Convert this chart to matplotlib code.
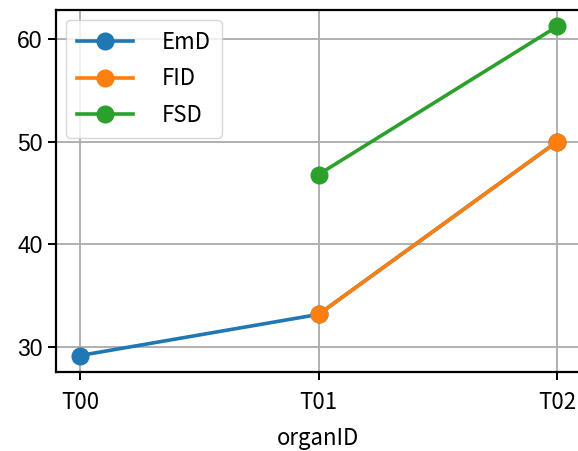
import numpy as np
import matplotlib.pyplot as plt

organs = ["T00", "T01", "T02"]
emd = [29.2, 33.2, 50.0]
fid = [np.nan, 33.2, 50.0]
fsd = [np.nan, 46.8, 61.2]

cjk = ["Noto Sans CJK SC", "DejaVu Sans"]

fig = plt.figure(figsize=(5.78, 4.51), dpi=100)
ax = fig.add_axes([56 / 578, 1 - 372 / 451, 525 / 578, 362 / 451])

x = np.arange(len(organs))
ax.plot(x, emd, "-o", color="tab:blue", lw=2.6, ms=12, label="EmD")
ax.plot(x, fid, "-o", color="tab:orange", lw=2.6, ms=12, label="FID")
ax.plot(x, fsd, "-o", color="tab:green", lw=2.6, ms=12, label="FSD")

ax.set_xlim(-0.1, 2.1)
ax.set_ylim(27.6, 62.8)
ax.set_xticks(x)
ax.set_xticklabels(organs, family=cjk, fontsize=16)
ax.set_yticks([30, 40, 50, 60])
ax.set_yticklabels(["30", "40", "50", "60"], family="Liberation Sans", fontsize=16.5)
ax.set_xlabel("organID", family=cjk, fontsize=16, labelpad=9)
ax.grid(True, color="#b0b0b0", lw=1.4)
ax.tick_params(width=1.4, length=6)
ax.tick_params(axis="x", pad=8)
for s in ax.spines.values():
    s.set_linewidth(1.6)

leg = ax.legend(loc="upper left", prop={"family": cjk, "size": 16},
                handlelength=2.5, handletextpad=1.3, borderpad=0.5,
                labelspacing=0.6, fancybox=True, borderaxespad=0.45)

fig.savefig("out.png", dpi=100)
